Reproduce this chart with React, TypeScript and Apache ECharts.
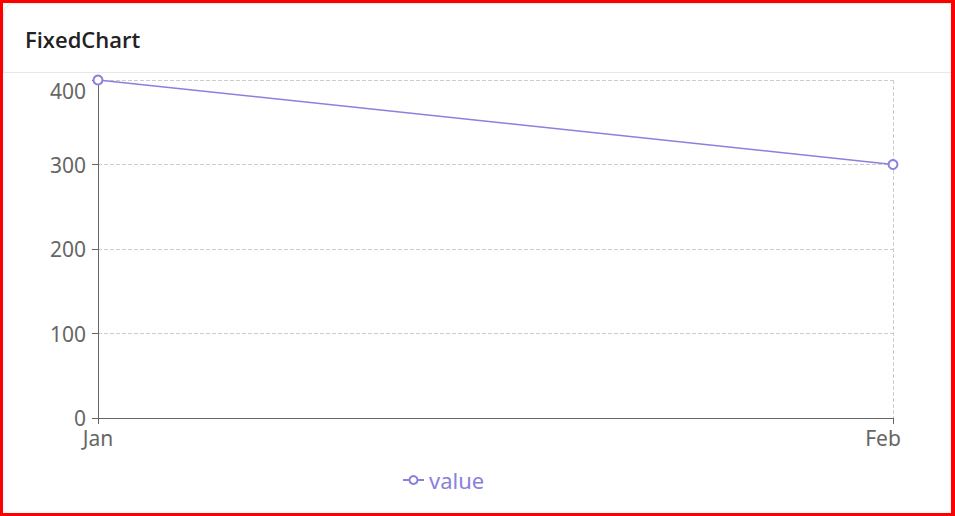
import React, { useEffect, useRef } from "react";
import * as echarts from "echarts";

const categories = ["Jan", "Feb"];
const values = [400, 300];
const seriesName = "value";
const yTicks = { min: 0, max: 400, interval: 100 };

export default function App() {
  const ref = useRef<HTMLDivElement>(null);
  useEffect(() => {
    document.body.style.margin = "0";
    const chart = echarts.init(ref.current!, undefined, { renderer: "svg" });
    const font = "Noto Sans";
    const labelColor = "#666";
    const lastCat = categories[categories.length - 1];
    chart.setOption({
      animation: false,
      grid: { left: 94, right: 58, top: 7, bottom: 95 },
      legend: {
        left: 393,
        top: 391,
        itemWidth: 21,
        itemHeight: 10,
        textStyle: { color: "#8a80de", fontSize: 22, fontFamily: font },
        data: [seriesName],
      },
      xAxis: {
        type: "category",
        data: categories,
        boundaryGap: false,
        axisLine: { lineStyle: { color: "#666" } },
        axisTick: { show: true, length: 6, lineStyle: { color: "#666" } },
        axisLabel: {
          color: labelColor,
          fontSize: 21,
          fontFamily: font,
          margin: 9,
          formatter: (v: string) => (v === lastCat ? `{r|${v}}` : v),
          rich: {
            r: {
              color: labelColor,
              fontSize: 21,
              fontFamily: font,
              padding: [0, 20, 0, 0],
            },
          },
        },
        splitLine: { show: true, lineStyle: { type: "dashed", color: "#ccc" } },
      },
      yAxis: {
        type: "value",
        min: yTicks.min,
        max: yTicks.max,
        interval: yTicks.interval,
        axisLine: { show: true, lineStyle: { color: "#666" } },
        axisTick: { show: true, length: 6, lineStyle: { color: "#666" } },
        axisLabel: {
          color: labelColor,
          fontSize: 21,
          fontFamily: font,
          margin: 12,
          formatter: (v: number) => (v === yTicks.max ? `{t|${v}}` : `${v}`),
          rich: {
            t: {
              color: labelColor,
              fontSize: 21,
              fontFamily: font,
              padding: [22, 0, 0, 0],
            },
          },
        },
        splitLine: { show: true, lineStyle: { type: "dashed", color: "#ccc" } },
      },
      series: [
        {
          name: seriesName,
          type: "line",
          data: values,
          symbol: "emptyCircle",
          symbolSize: 9,
          itemStyle: { color: "#8a80de" },
          lineStyle: { color: "#8a80de", width: 1.5 },
        },
      ],
    });
    return () => chart.dispose();
  }, []);
  return (
    <div
      style={{
        position: "fixed",
        left: 0,
        top: 0,
        width: 955,
        height: 516,
        boxSizing: "border-box",
        border: "3px solid red",
        borderRightWidth: 4,
        background: "#fff",
      }}
    >
      <div
        style={{
          position: "absolute",
          left: 0,
          top: 0,
          right: 0,
          height: 69,
          borderBottom: "1px solid #e8e8e8",
          borderTopLeftRadius: 10,
          boxShadow: "inset 1px 1px 0 #eee",
        }}
      >
        <div
          style={{
            position: "absolute",
            left: 22,
            top: 21,
            fontFamily: "Open Sans, Noto Sans, sans-serif",
            fontWeight: 600,
            fontSize: 22,
            color: "#222",
            lineHeight: "30px",
          }}
        >
          FixedChart
        </div>
      </div>
      <div
        ref={ref}
        style={{ position: "absolute", left: 1, top: 70, width: 947, height: 440 }}
      />
    </div>
  );
}
